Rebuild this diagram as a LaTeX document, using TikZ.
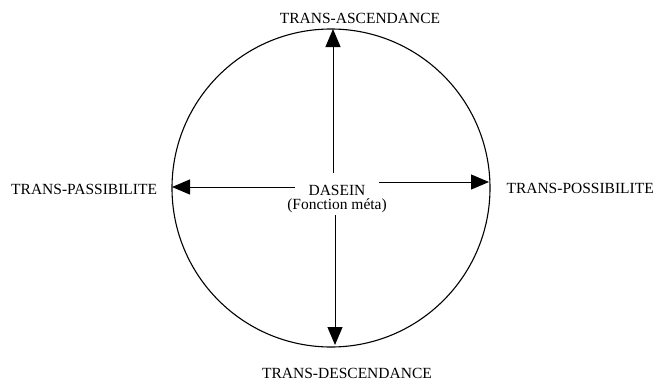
\documentclass[tikz,border=0pt]{standalone}
\usepackage{fontspec}
\setmainfont{Liberation Serif}
\usetikzlibrary{arrows.meta}
\begin{document}
\begin{tikzpicture}[x=1pt,y=-1pt,
  lbl/.style={font=\fontsize{15.5}{18}\selectfont, inner sep=0pt},
  arr/.style={line width=1pt, -{Triangle[length=18pt,width=15pt]}}]
\useasboundingbox (0,0) rectangle (656,383);
\node[draw, line width=1.1pt, circle, minimum size=318pt, inner sep=0pt] (c) at (331,188) {};
\node[lbl] (da) at (337,190) {DASEIN};
\node[lbl] (fm) at (337,206) {(Fonction méta)};
\node[lbl] (up) at (360,18) {TRANS-ASCENDANCE};
\node[lbl] (dn) at (347,373) {TRANS-DESCENDANCE};
\node[lbl, anchor=west] (le) at (11,189) {TRANS-PASSIBILITE};
\node[lbl, anchor=east] (ri) at (654,188) {TRANS-POSSIBILITE};
\coordinate (us) at (333,173);
\coordinate (ut) at (333,29);
\coordinate (ds) at (335,215);
\coordinate (dt) at (335,345);
\coordinate (ls) at (295,187);
\coordinate (lt) at (172,187);
\coordinate (rs) at (379,182);
\coordinate (rt) at (489,182);
\draw[arr] (us) -- (ut);
\draw[arr] (ds) -- (dt);
\draw[arr] (ls) -- (lt);
\draw[arr] (rs) -- (rt);
\end{tikzpicture}
\end{document}
